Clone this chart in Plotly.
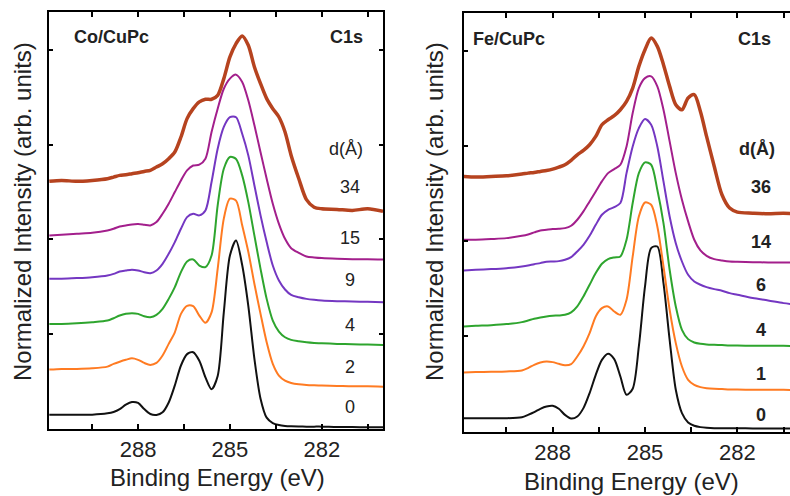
import plotly.graph_objects as go

# Binding energy grid (eV), shared by all spectra
energy = [290.9, 290.5, 290.0, 289.5, 289.0, 288.8, 288.6, 288.4, 288.2, 288.0,
          287.8, 287.6, 287.4, 287.2, 287.0, 286.8, 286.6, 286.4, 286.2, 286.0,
          285.8, 285.6, 285.4, 285.2, 285.0, 284.8, 284.6, 284.4, 284.2, 284.0,
          283.8, 283.6, 283.4, 283.2, 283.0, 282.75, 282.5, 282.25, 282.0, 281.5,
          281.0, 280.5, 280.0]

# ---- Co/CuPc panel (thickness labels in Angstrom) ----
co_labels = ["0", "2", "4", "9", "15", "34"]
co_d0 = [0.151, 0.151, 0.151, 0.151, 0.165, 0.18, 0.21, 0.257, 0.285, 0.275,
         0.21, 0.158, 0.148, 0.176, 0.28, 0.46, 0.67, 0.79, 0.81, 0.72,
         0.545, 0.42, 0.56, 1.23, 1.83, 1.99, 1.73, 1.30, 0.74, 0.32,
         0.12, 0.063, 0.042, 0.032, 0.028, 0.026, 0.025, 0.025, 0.025, 0.021,
         0.021, 0.018, 0.018]
co_d2 = [0.627, 0.634, 0.634, 0.64, 0.658, 0.687, 0.71, 0.73, 0.746, 0.73,
         0.697, 0.676, 0.697, 0.775, 0.898, 1.02, 1.215, 1.30, 1.296, 1.197,
         1.12, 1.23, 1.69, 2.22, 2.43, 2.41, 2.15, 1.87, 1.53, 1.215,
         0.915, 0.687, 0.563, 0.51, 0.486, 0.472, 0.465, 0.461, 0.458, 0.455,
         0.451, 0.451, 0.447]
co_d4 = [1.109, 1.109, 1.116, 1.127, 1.144, 1.169, 1.197, 1.215, 1.222, 1.215,
         1.19, 1.18, 1.204, 1.268, 1.373, 1.497, 1.655, 1.768, 1.789, 1.725,
         1.708, 1.83, 2.36, 2.746, 2.87, 2.85, 2.676, 2.394, 2.04, 1.69,
         1.373, 1.144, 1.028, 0.968, 0.94, 0.926, 0.915, 0.908, 0.905, 0.898,
         0.894, 0.891, 0.887]
co_d9 = [1.585, 1.585, 1.592, 1.602, 1.62, 1.637, 1.662, 1.672, 1.68, 1.672,
         1.655, 1.644, 1.672, 1.743, 1.849, 1.972, 2.113, 2.236, 2.271, 2.254,
         2.306, 2.606, 2.958, 3.187, 3.29, 3.29, 3.116, 2.887, 2.57, 2.254,
         1.972, 1.725, 1.567, 1.472, 1.415, 1.39, 1.373, 1.363, 1.356, 1.349,
         1.345, 1.342, 1.338]
co_d15 = [2.042, 2.049, 2.06, 2.07, 2.095, 2.113, 2.137, 2.148, 2.158, 2.162,
          2.155, 2.148, 2.183, 2.271, 2.377, 2.5, 2.623, 2.729, 2.78, 2.789,
          2.852, 3.134, 3.38, 3.59, 3.697, 3.739, 3.662, 3.468, 3.204, 2.92,
          2.641, 2.377, 2.165, 2.007, 1.908, 1.859, 1.82, 1.81, 1.803, 1.796,
          1.792, 1.792, 1.789]
co_d34 = [2.613, 2.623, 2.613, 2.623, 2.641, 2.658, 2.676, 2.683, 2.694, 2.704,
          2.718, 2.729, 2.764, 2.799, 2.852, 2.923, 3.081, 3.275, 3.38, 3.451,
          3.479, 3.479, 3.521, 3.697, 3.926, 4.067, 4.148, 4.049, 3.82, 3.644,
          3.486, 3.38, 3.292, 3.134, 2.887, 2.641, 2.42, 2.34, 2.324, 2.317,
          2.306, 2.324, 2.296]

# ---- Fe/CuPc panel ----
fe_labels = ["0", "1", "4", "6", "14", "36"]
fe_d0 = [0.14, 0.14, 0.14, 0.14, 0.151, 0.175, 0.204, 0.239, 0.263, 0.27,
         0.239, 0.175, 0.137, 0.158, 0.246, 0.404, 0.596, 0.754, 0.818, 0.761,
         0.579, 0.386, 0.45, 0.895, 1.526, 1.93, 1.947, 1.561, 0.965, 0.439,
         0.193, 0.095, 0.06, 0.046, 0.039, 0.035, 0.035, 0.035, 0.035, 0.032,
         0.032, 0.032, 0.032]
fe_d1 = [0.621, 0.625, 0.628, 0.632, 0.642, 0.667, 0.702, 0.726, 0.737, 0.73,
         0.712, 0.698, 0.709, 0.789, 0.895, 1.035, 1.211, 1.298, 1.316, 1.263,
         1.228, 1.386, 1.842, 2.263, 2.41, 2.386, 2.158, 1.737, 1.281, 0.93,
         0.684, 0.544, 0.491, 0.467, 0.456, 0.449, 0.446, 0.442, 0.442, 0.439,
         0.439, 0.439, 0.435]
fe_d4 = [1.105, 1.112, 1.119, 1.13, 1.151, 1.168, 1.186, 1.2, 1.211, 1.218,
         1.221, 1.228, 1.253, 1.316, 1.421, 1.544, 1.667, 1.765, 1.814, 1.832,
         1.842, 2.018, 2.404, 2.719, 2.832, 2.807, 2.544, 2.193, 1.702, 1.316,
         1.07, 0.972, 0.937, 0.923, 0.916, 0.912, 0.909, 0.905, 0.905, 0.902,
         0.902, 0.902, 0.898]
fe_d6 = [1.695, 1.702, 1.709, 1.719, 1.737, 1.747, 1.761, 1.772, 1.786, 1.789,
         1.793, 1.807, 1.835, 1.895, 1.965, 2.06, 2.175, 2.281, 2.333, 2.361,
         2.404, 2.719, 3.0, 3.193, 3.288, 3.228, 3.0, 2.632, 2.263, 1.982,
         1.789, 1.649, 1.579, 1.544, 1.519, 1.498, 1.481, 1.456, 1.439, 1.404,
         1.379, 1.351, 1.333]
fe_d14 = [2.018, 2.018, 2.025, 2.035, 2.06, 2.074, 2.095, 2.116, 2.123, 2.13,
          2.133, 2.14, 2.165, 2.228, 2.316, 2.421, 2.526, 2.632, 2.719, 2.761,
          2.807, 3.0, 3.351, 3.614, 3.719, 3.737, 3.632, 3.386, 3.053, 2.719,
          2.439, 2.211, 2.018, 1.905, 1.849, 1.814, 1.8, 1.789, 1.786, 1.782,
          1.779, 1.779, 1.775]
fe_d36 = [2.684, 2.677, 2.684, 2.691, 2.709, 2.719, 2.726, 2.737, 2.747, 2.761,
          2.782, 2.807, 2.853, 2.912, 2.958, 3.018, 3.105, 3.228, 3.281, 3.323,
          3.386, 3.474, 3.614, 3.842, 4.018, 4.14, 4.053, 3.86, 3.632, 3.439,
          3.386, 3.509, 3.544, 3.368, 3.105, 2.789, 2.491, 2.351, 2.309, 2.298,
          2.291, 2.298, 2.288]

colors = ["#111111", "#FF7B22", "#2EA52E", "#7437C2", "#A31F8C", "#B6431F"]
widths = [2, 2, 2, 2, 2, 3.5]

W, H = 790, 496
FONT = "Liberation Sans, Arial, Helvetica, sans-serif"

def px(x):
    return x / W

def py(y):
    return 1 - y / H

fig = go.Figure()

co_series = [co_d0, co_d2, co_d4, co_d9, co_d15, co_d34]
fe_series = [fe_d0, fe_d1, fe_d4, fe_d6, fe_d14, fe_d36]

for i, s in enumerate(co_series):
    fig.add_trace(go.Scatter(x=energy, y=s, mode="lines", xaxis="x", yaxis="y",
                             line=dict(color=colors[i], width=widths[i], shape="spline", smoothing=0.8),
                             showlegend=False, hoverinfo="skip"))
for i, s in enumerate(fe_series):
    fig.add_trace(go.Scatter(x=energy, y=s, mode="lines", xaxis="x2", yaxis="y2",
                             line=dict(color=colors[i], width=widths[i], shape="spline", smoothing=0.8),
                             showlegend=False, hoverinfo="skip"))

xtickvals = [289.5, 288, 286.5, 285, 283.5, 282, 280.5]
xticktext = ["", "288", "", "285", "", "282", ""]

xcommon = dict(tickvals=xtickvals, ticktext=xticktext, ticks="inside", ticklen=5,
               tickwidth=1.5, tickcolor="black", showline=True, linecolor="black",
               linewidth=2, mirror="ticks", showgrid=False, zeroline=False,
               tickfont=dict(family=FONT, size=22, color="#222222"))
ycommon = dict(tickvals=[1, 2, 3, 4], ticks="inside", ticklen=4, tickwidth=1.5,
               tickcolor="black", showline=True, linecolor="black", linewidth=2,
               showticklabels=False, showgrid=False, zeroline=False)

fig.update_layout(
    width=W, height=H,
    margin=dict(l=0, r=0, t=0, b=0),
    paper_bgcolor="white", plot_bgcolor="white",
    xaxis=dict(domain=[px(49), px(383)], range=[290.91, 280.0], anchor="y", **xcommon),
    yaxis=dict(domain=[py(429), py(12)], range=[0, 4.4], anchor="x", mirror="ticks", **ycommon),
    xaxis2=dict(domain=[px(464), 1.0], range=[290.88, 280.29], anchor="y2", **xcommon),
    yaxis2=dict(domain=[py(431.5), py(13)], range=[0, 4.404], anchor="x2", mirror=False, **ycommon),
)

annotations = []

def add_text(text, x, y, size=18, bold=False, color="#222222", angle=0):
    t = "<b>" + text + "</b>" if bold else text
    annotations.append(dict(text=t, x=px(x), y=py(y), xref="paper", yref="paper",
                            xanchor="center", yanchor="middle", showarrow=False,
                            textangle=angle, font=dict(family=FONT, size=size, color=color)))

# Left panel labels
add_text("Co/CuPc", 111, 37, bold=True)
add_text("C1s", 346, 37, bold=True)
add_text("d(Å)", 346, 149)
co_label_y = [407, 367, 325, 280, 238, 187]
for lab, yy in zip(co_labels, co_label_y):
    add_text(lab, 350, yy)

# Right panel labels
add_text("Fe/CuPc", 509, 39, bold=True)
add_text("C1s", 754, 39, bold=True)
add_text("d(Å)", 757, 149, bold=True)
fe_label_y = [415, 374, 330, 285, 242, 187]
for lab, yy in zip(fe_labels, fe_label_y):
    add_text(lab, 761, yy, bold=True)

# Axis titles
add_text("Binding Energy (eV)", 217, 477, size=24)
add_text("Binding Energy (eV)", 631, 481, size=24)
add_text("Normalized Intensity (arb. units)", 22, 212, size=24, angle=-90)
add_text("Normalized Intensity (arb. units)", 434, 212, size=24, angle=-90)

fig.update_layout(annotations=annotations)

fig.write_html("out.html")
